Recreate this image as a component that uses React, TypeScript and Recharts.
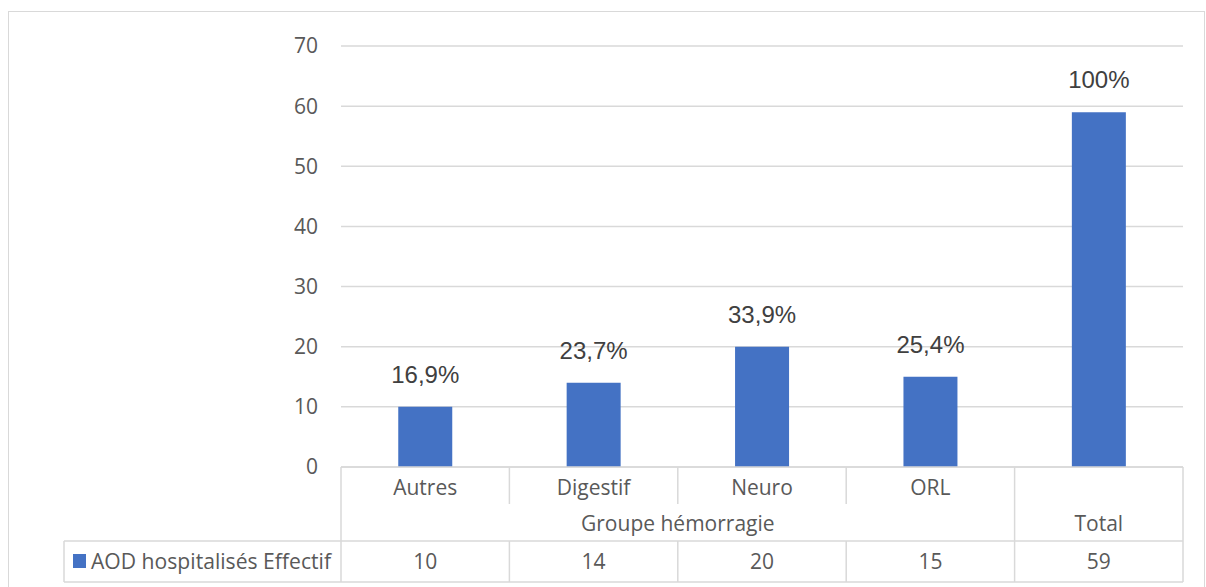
import React from "react";
import { BarChart, Bar, XAxis, YAxis, CartesianGrid, LabelList } from "recharts";

const categories = ["Autres", "Digestif", "Neuro", "ORL", "Total"];
const rowLabels = ["Autres", "Digestif", "Neuro", "ORL", ""];
const groups = ["Groupe hémorragie", "Groupe hémorragie", "Groupe hémorragie", "Groupe hémorragie", "Total"];
const effectif = [10, 14, 20, 15, 59];
const percentLabels = ["16,9%", "23,7%", "33,9%", "25,4%", "100%"];
const yTicks = [0, 10, 20, 30, 40, 50, 60, 70];
const seriesName = "AOD hospitalisés Effectif";

const data = categories.map((c, i) => ({
  key: c,
  value: effectif[i],
  pct: percentLabels[i],
}));

const W = 1206;
const H = 587;
const MARGIN = { top: 46, right: 23, left: 281, bottom: 0 };
const Y_AXIS_W = 60;
const X_AXIS_H = 120;
const PLOT_W = W - MARGIN.left - Y_AXIS_W - MARGIN.right;
const BAND = PLOT_W / categories.length;
const PLOT_LEFT = MARGIN.left + Y_AXIS_W;
const PLOT_RIGHT = W - MARGIN.right;

const LINE = "#d9d9d9";
const TEXT = "#595959";
const BAR = "#4472C4";
const FONT = "'Open Sans', sans-serif";

// Row geometry relative to axis line
const ROW1_MID = 20;
const ROW1_END = 37;
const ROW2_MID = 56;
const ROW3_TOP = 74;
const ROW3_MID = 94;
const ROW3_BOT = 115;
const LEGEND_LEFT = 64;

const TableTick = (props: any) => {
  const { x, y, index } = props;
  const i: number = index;
  const left = x - BAND / 2;
  const right = x + BAND / 2;
  const els: React.ReactNode[] = [];

  // category label
  els.push(
    <text key="cat" x={x} y={y + ROW1_MID} textAnchor="middle" dominantBaseline="central"
      fill={TEXT} fontSize={21} fontFamily={FONT}>{rowLabels[i]}</text>
  );
  // value
  els.push(
    <text key="val" x={x} y={y + ROW3_MID} textAnchor="middle" dominantBaseline="central"
      fill={TEXT} fontSize={21} fontFamily={FONT}>{effectif[i]}</text>
  );
  // group label (at first of its span)
  const isGroupStart = i === 0 || groups[i] !== groups[i - 1];
  if (isGroupStart) {
    let span = 1;
    while (i + span < groups.length && groups[i + span] === groups[i]) span++;
    const cx = left + (span * BAND) / 2;
    els.push(
      <text key="grp" x={cx} y={y + ROW2_MID} textAnchor="middle" dominantBaseline="central"
        fill={TEXT} fontSize={21} fontFamily={FONT}>{groups[i]}</text>
    );
    els.push(<line key="lfull" x1={left} x2={left} y1={y} y2={y + ROW3_BOT} stroke={LINE} strokeWidth={1.5} />);
  } else {
    els.push(<line key="l1" x1={left} x2={left} y1={y} y2={y + ROW1_END} stroke={LINE} strokeWidth={1.5} />);
    els.push(<line key="l2" x1={left} x2={left} y1={y + ROW3_TOP} y2={y + ROW3_BOT} stroke={LINE} strokeWidth={1.5} />);
  }
  if (i === categories.length - 1) {
    els.push(<line key="rfull" x1={right} x2={right} y1={y} y2={y + ROW3_BOT} stroke={LINE} strokeWidth={1.5} />);
  }
  if (i === 0) {
    els.push(<line key="h3t" x1={LEGEND_LEFT} x2={PLOT_RIGHT} y1={y + ROW3_TOP} y2={y + ROW3_TOP} stroke={LINE} strokeWidth={1.5} />);
    els.push(<line key="h3b" x1={LEGEND_LEFT} x2={PLOT_RIGHT} y1={y + ROW3_BOT} y2={y + ROW3_BOT} stroke={LINE} strokeWidth={1.5} />);
    els.push(<line key="lg" x1={LEGEND_LEFT} x2={LEGEND_LEFT} y1={y + ROW3_TOP} y2={y + ROW3_BOT} stroke={LINE} strokeWidth={1.5} />);
    els.push(<rect key="sw" x={LEGEND_LEFT + 9} y={y + ROW3_MID - 7} width={13} height={14} fill={BAR} />);
    els.push(
      <text key="lt" x={LEGEND_LEFT + 27} y={y + ROW3_MID} textAnchor="start" dominantBaseline="central"
        fill={TEXT} fontSize={21} fontFamily={FONT} textLength={240} lengthAdjust="spacingAndGlyphs">{seriesName}</text>
    );
  }
  return <g>{els}</g>;
};

export default function App() {
  return (
    <div style={{ position: "absolute", left: 0, top: 0, width: W, height: H, background: "#fff", overflow: "hidden" }}>
      <div style={{ position: "absolute", left: 8, top: 11, width: 1197, height: 620, border: `1.5px solid ${LINE}`, boxSizing: "border-box" }} />
      <div style={{ position: "absolute", left: 0, top: 0 }}>
        <BarChart width={W} height={H} data={data} margin={MARGIN} barCategoryGap="34%">
          <CartesianGrid vertical={false} stroke={LINE} strokeWidth={1.5} />
          <XAxis dataKey="key" height={X_AXIS_H} axisLine={{ stroke: LINE, strokeWidth: 1.5 }} tickLine={false}
            tickSize={0} tickMargin={0} interval={0} tick={(p: any) => <TableTick {...p} />} />
          <YAxis width={Y_AXIS_W} domain={[0, 70]} ticks={yTicks} axisLine={false} tickLine={false}
            tickSize={0} tickMargin={23} tick={{ fill: TEXT, fontSize: 21, fontFamily: FONT }} />
          <Bar dataKey="value" fill={BAR} isAnimationActive={false}>
            <LabelList dataKey="pct" position="top" offset={24} fill="#404040" fontSize={24}
              fontFamily="'Liberation Sans', Arial, sans-serif" />
          </Bar>
        </BarChart>
      </div>
    </div>
  );
}
